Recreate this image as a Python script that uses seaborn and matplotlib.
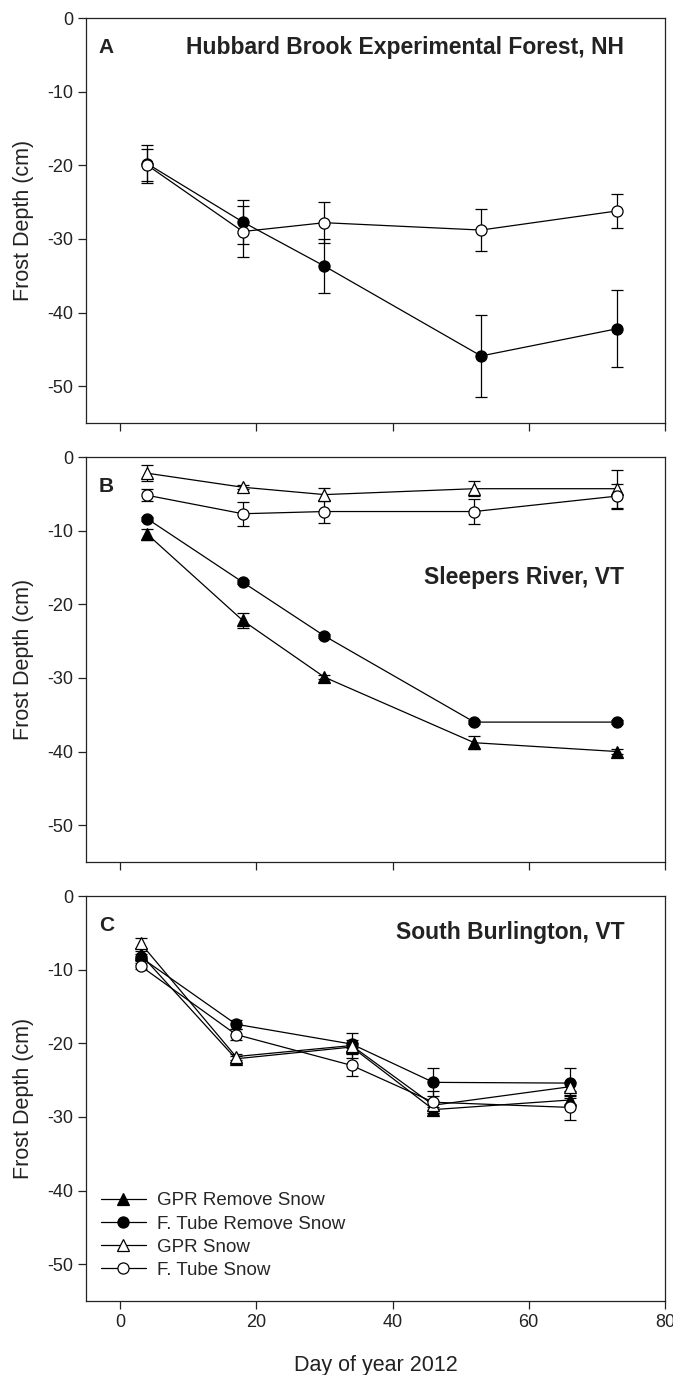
import matplotlib
matplotlib.use('Agg')
import matplotlib.pyplot as plt
import seaborn as sns

# panel A - Hubbard Brook (frost tubes only)
days_a = [4, 18, 30, 53, 73]
a_tube_remove = [-19.8, -27.7, -33.7, -45.9, -42.2]
a_tube_remove_err = [2.6, 3.0, 3.7, 5.6, 5.2]
a_tube_snow = [-20.0, -29.0, -27.8, -28.8, -26.2]
a_tube_snow_err = [2.2, 3.4, 2.8, 2.8, 2.3]

# panel B - Sleepers River
days_b = [4, 18, 30, 52, 73]
b_gpr_remove = [-10.5, -22.2, -29.9, -38.8, -40.0]
b_gpr_remove_err = [0.7, 1.0, 0.3, 0.9, 0.3]
b_tube_remove = [-8.4, -17.0, -24.3, -36.0, -36.0]
b_tube_remove_err = [0.3, 0.3, 0.3, 0.3, 0.3]
b_gpr_snow = [-2.2, -4.1, -5.1, -4.3, -4.3]
b_gpr_snow_err = [1.1, 0.3, 0.9, 1.0, 2.6]
b_tube_snow = [-5.2, -7.7, -7.4, -7.4, -5.3]
b_tube_snow_err = [0.8, 1.6, 1.6, 1.7, 1.7]

# panel C - South Burlington
days_c = [3, 17, 34, 46, 66]
c_gpr_remove = [-7.9, -22.1, -20.5, -29.0, -27.7]
c_gpr_remove_err = [0.5, 0.4, 0.6, 0.4, 0.5]
c_tube_remove = [-8.3, -17.4, -20.1, -25.3, -25.4]
c_tube_remove_err = [0.5, 0.6, 0.6, 1.9, 2.0]
c_gpr_snow = [-6.4, -21.8, -20.3, -28.4, -25.9]
c_gpr_snow_err = [0.7, 0.4, 1.7, 0.6, 0.6]
c_tube_snow = [-9.5, -18.8, -23.0, -28.0, -28.7]
c_tube_snow_err = [0.4, 0.7, 1.5, 1.5, 1.7]

y_ticks = [0, -10, -20, -30, -40, -50]
x_ticks = [0, 20, 40, 60, 80]

# marker, face colour per series
styles = {
    'GPR Remove Snow': ('^', 'black'),
    'F. Tube Remove Snow': ('o', 'black'),
    'GPR Snow': ('^', 'white'),
    'F. Tube Snow': ('o', 'white'),
}

sns.set_theme(style='ticks')
plt.rcParams['font.family'] = ['Liberation Sans', 'DejaVu Sans']
plt.rcParams['axes.unicode_minus'] = False
plt.rcParams['axes.linewidth'] = 0.9
plt.rcParams['xtick.major.width'] = 0.9
plt.rcParams['ytick.major.width'] = 0.9
plt.rcParams['xtick.major.size'] = 5.5
plt.rcParams['ytick.major.size'] = 5.5
plt.rcParams['xtick.color'] = '#222222'
plt.rcParams['ytick.color'] = '#222222'
plt.rcParams['axes.edgecolor'] = '#222222'


def draw_series(ax, days, vals, err, name, with_label=False):
    marker, face = styles[name]
    ax.errorbar(days, vals, yerr=err, fmt='none', ecolor='black', elinewidth=0.9,
                capsize=4.5, capthick=0.9, zorder=2)
    sns.lineplot(x=days, y=vals, ax=ax, color='black', linewidth=0.9, marker=marker,
                 markersize=8, markerfacecolor=face, markeredgecolor='black',
                 markeredgewidth=0.9, label=name if with_label else None,
                 legend=False, zorder=3)


def setup_axes(ax, letter, title, title_y, show_x):
    ax.set_xlim(-5, 80)
    ax.set_ylim(-55, 0)
    ax.set_xticks(x_ticks)
    ax.set_yticks(y_ticks)
    ax.tick_params(labelsize=13, direction='out', pad=4)
    if not show_x:
        ax.set_xticklabels([])
    ax.set_xlabel('')
    ax.set_ylabel('Frost Depth (cm)', fontsize=15.5, labelpad=9, color='#222222')
    ax.text(0.022, 0.928, letter, transform=ax.transAxes, fontsize=15,
            fontweight='bold', va='center', ha='left', color='#222222')
    ax.text(0.93, title_y, title, transform=ax.transAxes, fontsize=16.5,
            fontweight='bold', va='center', ha='right', color='#222222')


fig = plt.figure(figsize=(6.73, 13.75), dpi=100)
left, width = 0.128, 0.860
ax_a = fig.add_axes([left, 0.6924, width, 0.2945])
ax_b = fig.add_axes([left, 0.3731, width, 0.2945])
ax_c = fig.add_axes([left, 0.0538, width, 0.2945])

draw_series(ax_a, days_a, a_tube_remove, a_tube_remove_err, 'F. Tube Remove Snow')
draw_series(ax_a, days_a, a_tube_snow, a_tube_snow_err, 'F. Tube Snow')
setup_axes(ax_a, 'A', 'Hubbard Brook Experimental Forest, NH', 0.928, False)

draw_series(ax_b, days_b, b_gpr_remove, b_gpr_remove_err, 'GPR Remove Snow')
draw_series(ax_b, days_b, b_tube_remove, b_tube_remove_err, 'F. Tube Remove Snow')
draw_series(ax_b, days_b, b_gpr_snow, b_gpr_snow_err, 'GPR Snow')
draw_series(ax_b, days_b, b_tube_snow, b_tube_snow_err, 'F. Tube Snow')
setup_axes(ax_b, 'B', 'Sleepers River, VT', 0.702, False)

draw_series(ax_c, days_c, c_gpr_remove, c_gpr_remove_err, 'GPR Remove Snow', True)
draw_series(ax_c, days_c, c_tube_remove, c_tube_remove_err, 'F. Tube Remove Snow', True)
draw_series(ax_c, days_c, c_gpr_snow, c_gpr_snow_err, 'GPR Snow', True)
draw_series(ax_c, days_c, c_tube_snow, c_tube_snow_err, 'F. Tube Snow', True)
setup_axes(ax_c, 'C', 'South Burlington, VT', 0.911, True)
ax_c.set_xlabel('Day of year 2012', fontsize=15.5, labelpad=17, color='#222222')

handles, labels = ax_c.get_legend_handles_labels()
ax_c.legend(handles, labels, loc='lower left', bbox_to_anchor=(0.025, 0.055),
            frameon=False, fontsize=13.5, handlelength=2.4, handletextpad=0.6,
            labelspacing=0.32, borderaxespad=0, borderpad=0)

fig.savefig('out.png', dpi=100)
